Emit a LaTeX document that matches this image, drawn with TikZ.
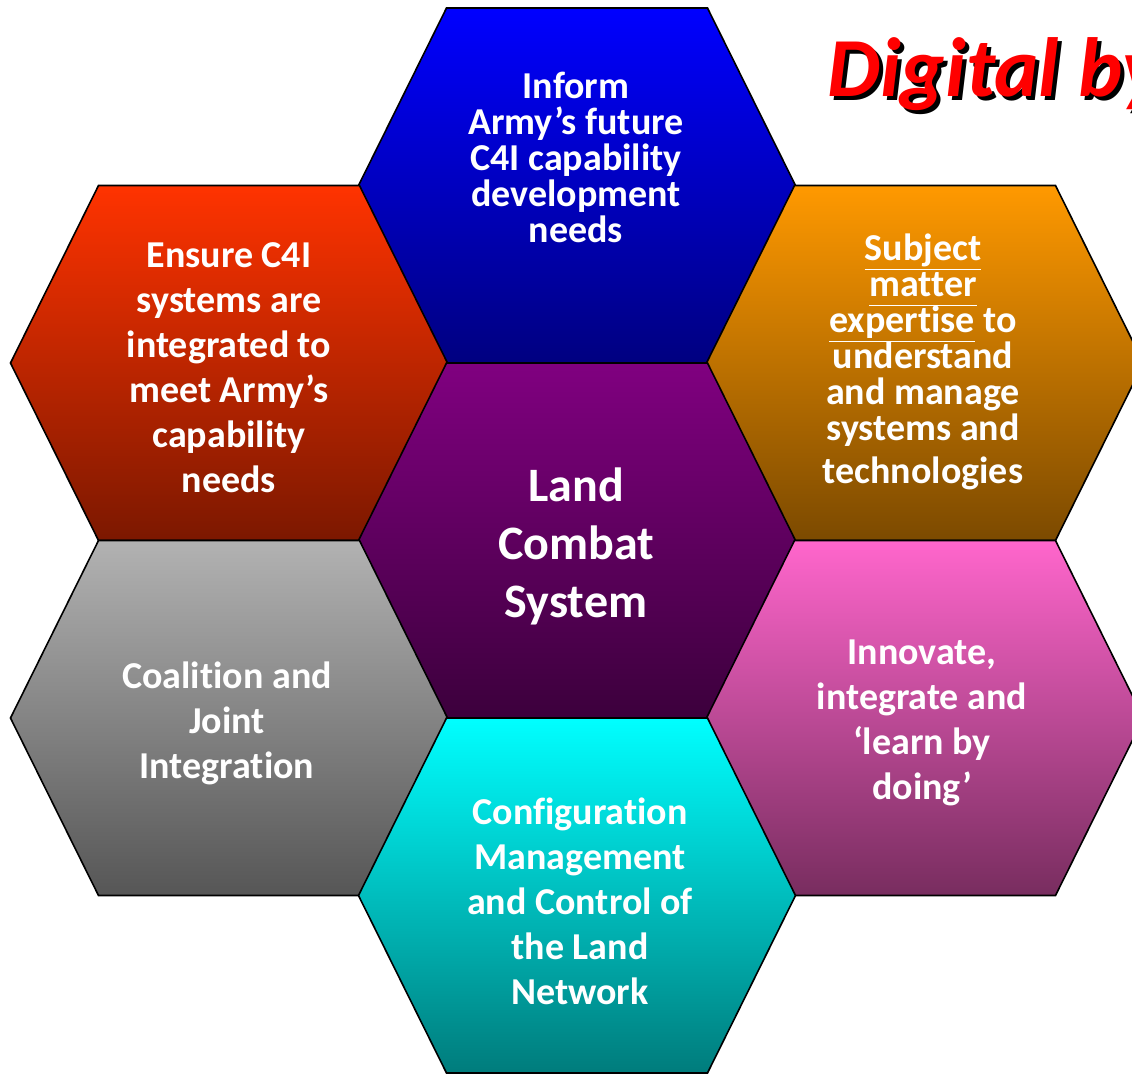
\documentclass[tikz,border=0pt]{standalone}
\usepackage{fontspec}
\setmainfont{Carlito}[Ligatures={NoCommon,NoContextual}]
\usepackage{tikz}
\usetikzlibrary{positioning}

\definecolor{blueTop}{RGB}{0,0,255}
\definecolor{blueBot}{RGB}{0,0,128}
\definecolor{redTop}{RGB}{255,51,0}
\definecolor{redBot}{RGB}{124,24,0}
\definecolor{orangeTop}{RGB}{255,153,0}
\definecolor{orangeBot}{RGB}{124,74,0}
\definecolor{purpleTop}{RGB}{128,0,128}
\definecolor{purpleBot}{RGB}{60,0,60}
\definecolor{pinkTop}{RGB}{255,102,204}
\definecolor{pinkBot}{RGB}{120,45,95}
\definecolor{grayTop}{RGB}{178,178,178}
\definecolor{grayBot}{RGB}{86,86,86}
\definecolor{cyanTop}{RGB}{0,255,255}
\definecolor{cyanBot}{RGB}{0,124,124}
\definecolor{titleRed}{RGB}{255,0,0}

\newcommand{\ulin}[1]{\underline{\vphantom{j}#1}}
\newcommand{\tightlines}{\lineskiplimit-100pt\relax}

\begin{document}
\begin{tikzpicture}[x=0.5pt,y=-0.5pt]
  \tikzset{hexcell/.style = {draw=black,line width=0.8pt}}
  \tikzset{celltext/.style = {text=white,align=center,inner sep=0pt,font=\bfseries\fontsize{19}{22.5}\selectfont\tightlines}}
  \tikzset{celltight/.style = {celltext,font=\bfseries\fontsize{19}{18}\selectfont\tightlines}}
  \tikzset{titletext/.style = {anchor=base west,inner sep=0pt,font=\bfseries\itshape\fontsize{42}{44}\selectfont}}

  \useasboundingbox (0,0) rectangle (1132,1073);
  \clip (0,0) rectangle (1132,1073);

  % honeycomb
  \foreach \cx/\cy/\tc/\bc in {577/185.5/blueTop/blueBot, 229/363/redTop/redBot,
      925/363/orangeTop/orangeBot, 577/540.5/purpleTop/purpleBot,
      229/718/grayTop/grayBot, 925/718/pinkTop/pinkBot, 577/895.5/cyanTop/cyanBot}
    \shade[hexcell,top color=\tc,bottom color=\bc] (\cx,\cy) ++(-218.5,0)
      -- ++(88,-177.5) -- ++(261,0) -- ++(88,177.5)
      -- ++(-88,177.5) -- ++(-261,0) -- cycle;

	\node[celltight] (inform) at (576,157) {Inform\\Army’s future\\C4I capability\\development\\needs};
	\node[celltext] (ensure) at (229,368) {Ensure C4I\\systems are\\integrated to\\meet Army’s\\capability\\needs};
	\node[celltight] (expertise) at (923,362) {\ulin{Subject}\\\ulin{matter}\\\ulin{expertise} to\\understand\\and manage\\systems and\\[3.5pt]technologies};
	\node[celltext,font=\bfseries\fontsize{24}{29}\selectfont\tightlines] (lcs) at (576,546) {Land\\Combat\\System};
	\node[celltext] (coalition) at (227,723) {Coalition and\\Joint\\Integration};
	\node[celltext] (innovate) at (922,723) {Innovate,\\integrate and\\‘learn by\\doing’};
	\node[celltext] (config) at (580,901) {Configuration\\Management\\and Control of\\the Land\\Network};

  % title
	\node[titletext,text=black] (titleshadow) at (831,100) {Digital by};
	\node[titletext,text=titleRed] (title) at (827,96) {Digital by};
\end{tikzpicture}
\end{document}
